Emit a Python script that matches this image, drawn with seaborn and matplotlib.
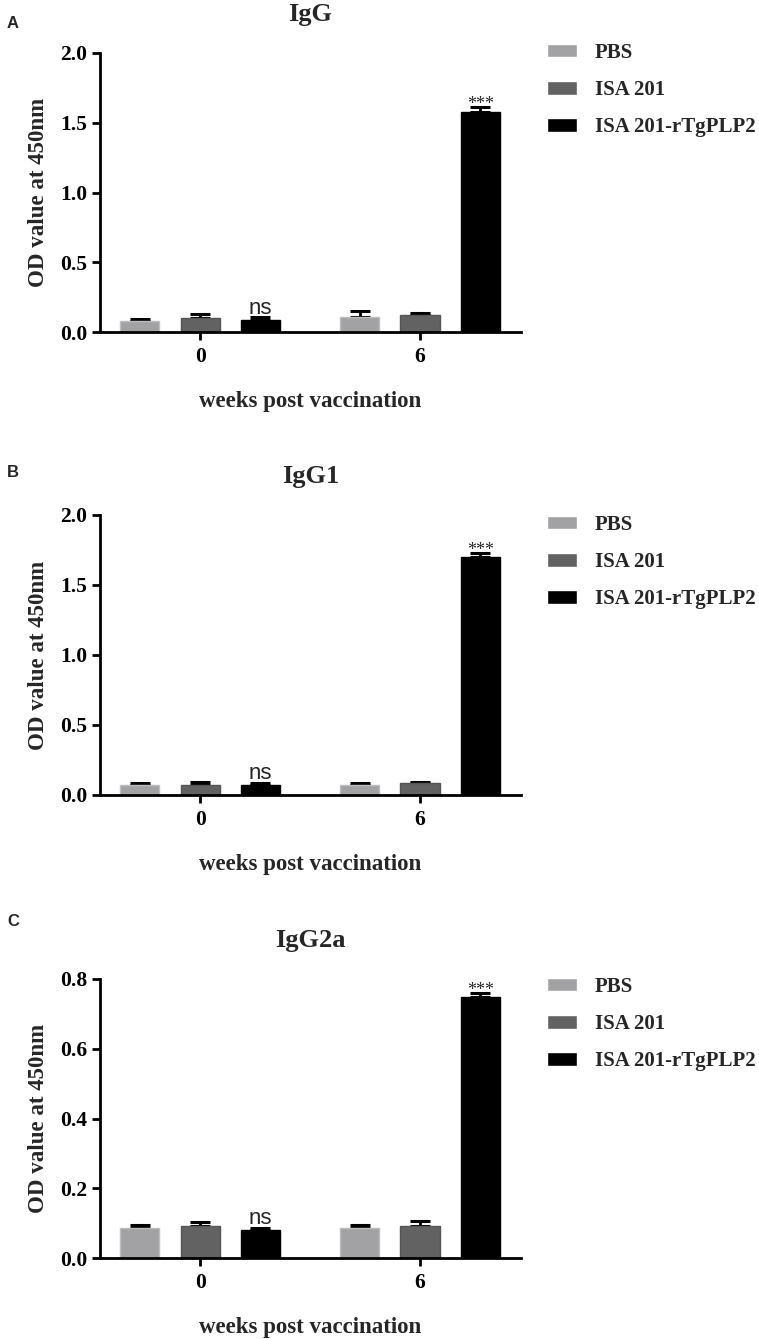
import numpy as np
import pandas as pd
import matplotlib
matplotlib.use('Agg')
import matplotlib.pyplot as plt
import seaborn as sns

# weeks post vaccination and groups
weeks = ["0", "6"]
treatments = ["PBS", "ISA 201", "ISA 201-rTgPLP2"]
palette = ["#a2a2a5", "#626262", "#000000"]
edges = ["#bdbdbd", "#555555", "#000000"]

# IgG (panel A): mean and upper SD per treatment, per week
igg_pbs = [0.080, 0.105]
igg_isa = [0.100, 0.120]
igg_rtg = [0.086, 1.577]
igg_pbs_err = [0.013, 0.048]
igg_isa_err = [0.026, 0.014]
igg_rtg_err = [0.019, 0.038]

# IgG1 (panel B)
igg1_pbs = [0.075, 0.069]
igg1_isa = [0.075, 0.083]
igg1_rtg = [0.071, 1.702]
igg1_pbs_err = [0.014, 0.014]
igg1_isa_err = [0.020, 0.012]
igg1_rtg_err = [0.017, 0.029]

# IgG2a (panel C)
igg2a_pbs = [0.085, 0.087]
igg2a_isa = [0.093, 0.093]
igg2a_rtg = [0.080, 0.748]
igg2a_pbs_err = [0.010, 0.008]
igg2a_isa_err = [0.009, 0.014]
igg2a_rtg_err = [0.007, 0.013]

# significance marks above the rTgPLP2 bars
sig_marks = ["ns", "***"]

SERIF = "Liberation Serif"
SANS = "Liberation Sans"

sns.set_theme(style="ticks")
plt.rcParams['font.family'] = [SERIF, 'DejaVu Sans']
plt.rcParams['font.weight'] = 'bold'

W, H = 759, 1339
fig = plt.figure(figsize=(W / 100, H / 100), dpi=100)


def make_df(means, errs):
    rows = []
    for t, m, e in zip(treatments, means, errs):
        for w, v, s in zip(weeks, m, e):
            rows.append({"week": w, "group": t, "od": v, "err": s})
    return pd.DataFrame(rows)


def panel(letter, title, means, errs, top_px, bottom_px, ymax, yticks, leg_top_px):
    left_px, right_px = 100, 521
    ax = fig.add_axes([left_px / W, 1 - bottom_px / H,
                       (right_px - left_px) / W, (bottom_px - top_px) / H])
    df = make_df(means, errs)
    sns.barplot(data=df, x="week", y="od", hue="group", hue_order=treatments,
                palette=palette, width=0.82, gap=0.35, errorbar=None,
                ax=ax, zorder=2)

    # error bars (upper side only) and edge colours from the drawn bars
    bar_sets = list(ax.containers)
    for i, cont in enumerate(bar_sets):
        sub = df[df["group"] == treatments[i]]
        xs = [b.get_x() + b.get_width() / 2 for b in cont]
        for b in cont:
            b.set_edgecolor(edges[i])
            b.set_linewidth(1)
        ax.errorbar(xs, sub["od"].values,
                    yerr=[np.zeros(len(xs)), sub["err"].values],
                    fmt="none", ecolor="black", elinewidth=2,
                    capsize=7, capthick=2.2, zorder=1)
        if i == 2:
            tops = sub["od"].values + sub["err"].values
            ax.annotate(sig_marks[0], (xs[0], tops[0]), xytext=(0, 2.5),
                        textcoords="offset points", ha="center", va="baseline",
                        fontsize=16, fontweight="normal", family=SANS)
            ax.annotate(sig_marks[1], (xs[1], tops[1]), xytext=(0, -1.5),
                        textcoords="offset points", ha="center", va="baseline",
                        fontsize=13, fontweight="normal", family=SERIF)

    ax.set_xlim(-0.455, 1.459)
    ax.set_ylim(0, ymax)
    ax.set_yticks(yticks)
    ax.set_yticklabels([f"{v:.1f}" for v in yticks])
    sns.despine(ax=ax)
    for s in ["left", "bottom"]:
        ax.spines[s].set_linewidth(2)
        ax.spines[s].set_color("black")
    ax.tick_params(axis="both", length=6, width=2, colors="black", labelsize=15.5)
    ax.tick_params(axis="y", pad=3)
    ax.tick_params(axis="x", pad=5)
    for lab in ax.get_xticklabels() + ax.get_yticklabels():
        lab.set_fontweight("bold")

    ax.set_xlabel("weeks post vaccination", fontsize=16.5, fontweight="bold", labelpad=17)
    ax.set_ylabel("OD value at 450nm", fontsize=16.5, fontweight="bold", labelpad=8)
    ax.set_title(title, fontsize=19, fontweight="bold", pad=23)

    h, l = ax.get_legend_handles_labels()
    ax.legend(h, l, loc="upper left", frameon=False,
              bbox_to_anchor=(547 / W, 1 - leg_top_px / H),
              bbox_transform=fig.transFigure, borderpad=0, borderaxespad=0,
              prop={"family": SERIF, "weight": "bold", "size": 15},
              handlelength=1.45, handleheight=0.62, handletextpad=0.85,
              labelspacing=0.82)

    fig.text(7 / W, 1 - letter[1] / H, letter[0], family=SANS,
             fontweight="bold", fontsize=12, va="center", ha="left")
    return ax


panel(("A", 24), "IgG",
      [igg_pbs, igg_isa, igg_rtg], [igg_pbs_err, igg_isa_err, igg_rtg_err],
      53, 332, 2.0, [0, 0.5, 1.0, 1.5, 2.0], 43)
panel(("B", 473), "IgG1",
      [igg1_pbs, igg1_isa, igg1_rtg], [igg1_pbs_err, igg1_isa_err, igg1_rtg_err],
      515, 795, 2.0, [0, 0.5, 1.0, 1.5, 2.0], 515)
panel(("C", 921), "IgG2a",
      [igg2a_pbs, igg2a_isa, igg2a_rtg], [igg2a_pbs_err, igg2a_isa_err, igg2a_rtg_err],
      979, 1258, 0.8, [0, 0.2, 0.4, 0.6, 0.8], 977)

fig.savefig("out.png", dpi=100)
